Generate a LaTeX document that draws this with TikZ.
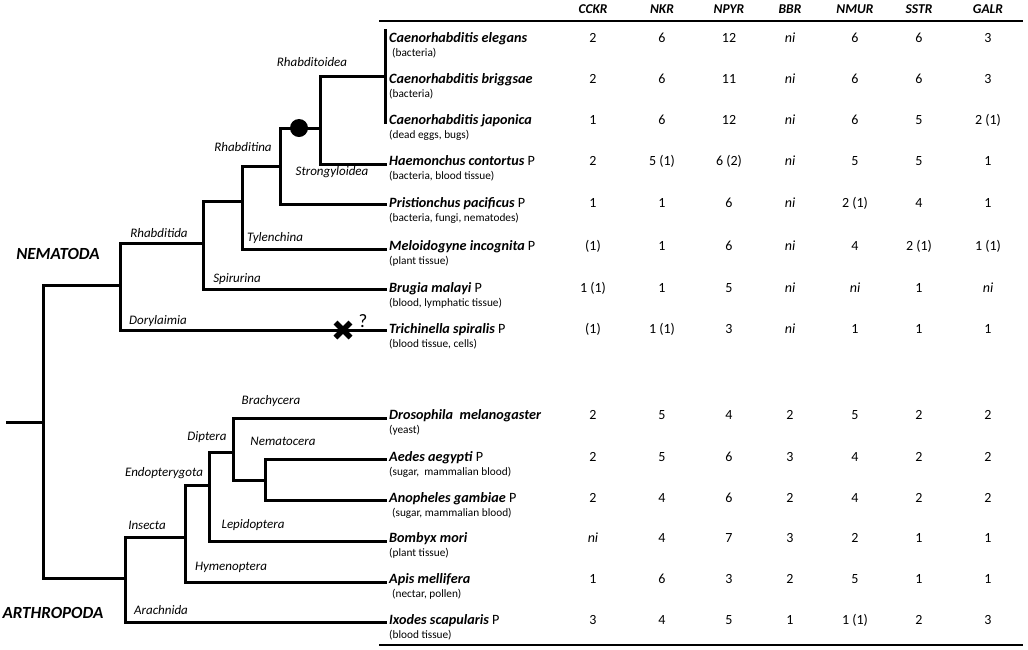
\documentclass[tikz,border=0pt]{standalone}
\usepackage{fontspec}
\setmainfont{Carlito}
\usetikzlibrary{calc}
\newcommand{\NI}{\textit{ni}}
\begin{document}
\begin{tikzpicture}[x=1pt,y=-1pt,
  br/.style={line width=3pt, line cap=rect},
  clade/.style={font=\fontsize{13}{15}\selectfont\itshape, inner sep=0},
  big/.style={font=\fontsize{17}{19}\selectfont\bfseries\itshape, inner sep=0},
  sp/.style={font=\fontsize{14.2}{16}\selectfont, anchor=base west, inner sep=0},
  sub/.style={font=\fontsize{11.3}{13}\selectfont, anchor=base west, inner sep=0},
  num/.style={font=\fontsize{14}{16}\selectfont, anchor=base, inner sep=0},
  hd/.style={font=\fontsize{13.5}{15}\selectfont\bfseries\itshape, anchor=base, inner sep=0},
  rulestyle/.style={line width=2pt}]
\useasboundingbox (0,0) rectangle (1028,649);

% ---- tree: nematodes
\coordinate (root) at (7,422);
\coordinate (r0) at (43,422);
\draw[br] (root) -- (r0);
\draw[br] (120,285) -| (43,578) -- (125,578);
\draw[br] (203,243) -| (120,330) coordinate (dor) -- (385,330) coordinate (tTri);
\draw[br] (242,201) -| (203,289) -- (385,289) coordinate (tBru);
\draw[br] (280,166) -| (242,249) -- (385,249) coordinate (tMel);
\draw[br] (320,128) -| (280,204) -- (385,204) coordinate (tPri);
\draw[br] (385,76) -| (320,164) -- (385,164) coordinate (tHae);
\coordinate (barTop) at (385,30);
\coordinate (barBot) at (385,122);
\draw[br] (barTop) -- (barBot);
\fill (299,128) circle (9);
% loss marker
\coordinate (xm) at (343,330);
\draw[line width=5.5pt] ($(xm)+(-7.5,-7.5)$) -- ($(xm)+(7.5,7.5)$);
\draw[line width=5.5pt] ($(xm)+(-7.5,7.5)$) -- ($(xm)+(7.5,-7.5)$);
\node[font=\fontsize{19}{21}\selectfont, inner sep=0] (q) at (363,321) {?};

% ---- tree: arthropods
\draw[br] (185,537) -| (125,622) -- (385,622) coordinate (tIxo);
\draw[br] (209,485) -| (185,582) -- (385,582) coordinate (tApi);
\draw[br] (233,452) -| (209,541) -- (385,541) coordinate (tBom);
\draw[br] (385,418) -| (233,480) -- (265,480);
\draw[br] (385,459) -| (265,500) -- (385,500);

% ---- clade labels
\node[clade] (lRhd) at (312,62) {Rhabditoidea};
\node[clade] (lRhn) at (243,147) {Rhabditina};
\node[clade] (lStr) at (332,172) {Strongyloidea};
\node[clade] (lRha) at (159,233) {Rhabditida};
\node[clade] (lTyl) at (275,238) {Tylenchina};
\node[clade] (lSpi) at (237,279) {Spirurina};
\node[clade] (lDor) at (158,321) {Dorylaimia};
\node[big] (lNem) at (58,254) {NEMATODA};
\node[clade] (lBra) at (271,401) {Brachycera};
\node[clade] (lDip) at (207,437) {Diptera};
\node[clade] (lNmc) at (283,441) {Nematocera};
\node[clade] (lEnd) at (164,473) {Endopterygota};
\node[clade] (lIns) at (147,525) {Insecta};
\node[clade] (lLep) at (253,525) {Lepidoptera};
\node[clade] (lHym) at (231,567) {Hymenoptera};
\node[clade] (lAra) at (161,610) {Arachnida};
\node[big] (lArt) at (53,613) {ARTHROPODA};

% ---- table rules
\coordinate (tl) at (379,21); \coordinate (tr) at (1023,21);
\coordinate (bl) at (379,645); \coordinate (brr) at (1023,645);
\draw[rulestyle] (tl) -- (tr);
\draw[rulestyle] (bl) -- (brr);

% ---- headers
\foreach \h/\x in {CCKR/593,NKR/662,NPYR/729,BBR/790,NMUR/855,SSTR/919,GALR/988}
  \node[hd] (h\h) at (\x,13.5) {\h};

% ---- species
\foreach \i/\y/\n/\p/\s/\dx in {
  1/37/Caenorhabditis elegans//{(bacteria)}/3,
  2/78/Caenorhabditis briggsae//{(bacteria)}/0,
  3/119/Caenorhabditis japonica//{(dead eggs, bugs)}/0,
  4/160/Haemonchus contortus/ P/{(bacteria, blood tissue)}/0,
  5/202/Pristionchus pacificus/ P/{(bacteria, fungi, nematodes)}/0,
  6/245/Meloidogyne incognita/ P/{(plant tissue)}/0,
  7/287/Brugia malayi/ P/{(blood, lymphatic tissue)}/0,
  8/328/Trichinella spiralis/ P/{(blood tissue, cells)}/0,
  9/414/Drosophila\ \ melanogaster//{(yeast)}/0,
  10/456/Aedes aegypti/ P/{(sugar,\ \ mammalian blood)}/0,
  11/497/Anopheles gambiae/ P/{(sugar, mammalian blood)}/3,
  12/537/Bombyx mori//{(plant tissue)}/0,
  13/578/Apis mellifera//{(nectar, pollen)}/3,
  14/619/Ixodes scapularis/ P/{(blood tissue)}/0}
{
  \node[sp] (s\i) at (389,\y+5) {\textbf{\textit{\n}}\p};
  \node[sub] (u\i) at (389+\dx,\y+19.5) {\s};
}

% ---- numbers
\foreach \i/\y/\a/\b/\c/\d/\e/\f/\g in {
  1/37/2/6/12/\NI/6/6/3,
  2/78/2/6/11/\NI/6/6/3,
  3/119/1/6/12/\NI/6/5/2 (1),
  4/160/2/5 (1)/6 (2)/\NI/5/5/1,
  5/202/1/1/6/\NI/2 (1)/4/1,
  6/245/(1)/1/6/\NI/4/2 (1)/1 (1),
  7/287/1 (1)/1/5/\NI/\NI/1/\NI,
  8/328/(1)/1 (1)/3/\NI/1/1/1,
  9/414/2/5/4/2/5/2/2,
  10/456/2/5/6/3/4/2/2,
  11/497/2/4/6/2/4/2/2,
  12/537/\NI/4/7/3/2/1/1,
  13/578/1/6/3/2/5/1/1,
  14/619/3/4/5/1/1 (1)/2/3}
{
  \node[num] (v\i a) at (593,\y+5) {\a};
  \node[num] (v\i b) at (662,\y+5) {\b};
  \node[num] (v\i c) at (729,\y+5) {\c};
  \node[num] (v\i d) at (790,\y+5) {\d};
  \node[num] (v\i e) at (855,\y+5) {\e};
  \node[num] (v\i f) at (919,\y+5) {\f};
  \node[num] (v\i g) at (988,\y+5) {\g};
}
\end{tikzpicture}
\end{document}
